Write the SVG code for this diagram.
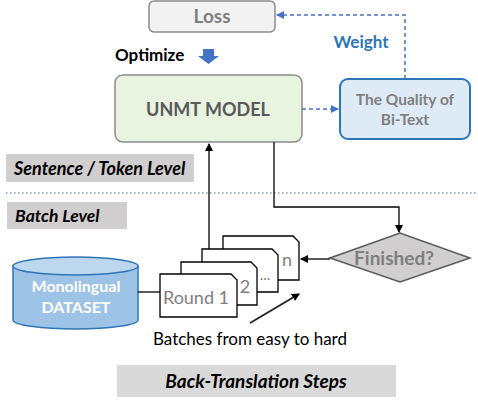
<svg xmlns="http://www.w3.org/2000/svg" width="478" height="400" viewBox="0 0 478 400">
<style>
text{font-family:Lato,"Open Sans","Liberation Sans",sans-serif}
.b{font-weight:bold}
.bi{font-weight:bold;font-style:italic;font-size:17.5px;fill:#000}
.g{fill:#7f7f7f}
.card{fill:#fff;stroke:#000;stroke-width:1.3}
.solid{fill:none;stroke:#000;stroke-width:1.3}
.dash{fill:none;stroke:#4472c4;stroke-width:1.5;stroke-dasharray:4 3}
</style>
<defs>
<marker id="ab" markerWidth="8" markerHeight="8" refX="7" refY="4" orient="auto" markerUnits="userSpaceOnUse"><path d="M0,0 L8,4 L0,8 Z" fill="#000"/></marker>
<marker id="abl" markerWidth="8" markerHeight="8" refX="7" refY="4" orient="auto" markerUnits="userSpaceOnUse"><path d="M0,0 L8,4 L0,8 Z" fill="#4472c4"/></marker>
</defs>
<rect x="0" y="0" width="478" height="400" fill="#fff"/>

<g id="loss">
<rect x="149" y="1" width="126" height="31" rx="5" fill="#f2f2f2" stroke="#8c8c8c" stroke-width="1.5"/>
<text x="212" y="23" text-anchor="middle" class="b g" font-size="19">Loss</text>
</g>

<g id="optimize">
<text x="115" y="61" class="b" font-size="17" fill="#000">Optimize</text>
<polygon points="203,49 214,49 214,56 219,56 208.5,64 198,56 203,56" fill="#4472c4"/>
</g>

<g id="weight-label">
<text x="361" y="48" text-anchor="middle" class="b" font-size="17" fill="#2e75b6">Weight</text>
</g>

<g id="unmt">
<rect x="115" y="75" width="187" height="67" rx="8" fill="#e8f3e0" stroke="#8c8c8c" stroke-width="1.5"/>
<text x="208" y="116" text-anchor="middle" class="b" font-size="18" fill="#595959">UNMT MODEL</text>
</g>

<g id="quality">
<rect x="340" y="79" width="130" height="60" rx="8" fill="#deebf7" stroke="#2e75b6" stroke-width="2"/>
<text x="405" y="105" text-anchor="middle" class="b g" font-size="15.5">The Quality of</text>
<text x="405" y="125" text-anchor="middle" class="b g" font-size="15.5">Bi-Text</text>
</g>

<g id="sentence-level">
<rect x="6" y="154" width="188" height="28" fill="#d0cece"/>
<text x="14" y="175" class="bi" font-size="18" style="font-size:18px">Sentence / Token Level</text>
</g>

<line x1="6" y1="193" x2="478" y2="193" stroke="#8497b0" stroke-width="1.5" stroke-dasharray="1.5 2.5"/>

<g id="batch-level">
<rect x="7" y="202" width="120" height="27" fill="#d0cece"/>
<text x="15" y="222" class="bi">Batch Level</text>
</g>

<g id="dataset">
<path d="M13,266 L13,320 A62.5,9 0 0 0 138,320 L138,266 Z" fill="#9dc3e6" stroke="#2e75b6" stroke-width="1.5"/>
<ellipse cx="75.5" cy="266" rx="62.5" ry="9" fill="#bdd7ee" stroke="#2e75b6" stroke-width="1.5"/>
<text x="76" y="292" text-anchor="middle" class="b" font-size="16" fill="#fff">Monolingual</text>
<text x="76" y="313" text-anchor="middle" class="b" font-size="16" fill="#fff">DATASET</text>
</g>

<g id="batches">
<path class="card" d="M223,236 L293,236 L299,242 L299,280 L223,280 Z"/>
<text x="287" y="266" text-anchor="middle" class="g" font-size="18">n</text>
<path class="card" d="M202,249 L272,249 L278,255 L278,292 L202,292 Z"/>
<text x="265" y="280" text-anchor="middle" class="g" font-size="15">...</text>
<path class="card" d="M181,262 L251,262 L257,268 L257,305 L181,305 Z"/>
<text x="245" y="293" text-anchor="middle" class="g" font-size="18">2</text>
<path class="card" d="M160,274 L231,274 L237,280 L237,317 L160,317 Z"/>
<text x="196" y="304" text-anchor="middle" class="g" font-size="18">Round 1</text>
</g>

<g id="finished">
<polygon points="330,258 400,233 470,258 400,282" fill="#d0cece" stroke="#595959" stroke-width="1.5"/>
<text x="394" y="265" text-anchor="middle" class="b g" font-size="19">Finished?</text>
</g>

<g id="batches-label">
<text x="250" y="345" text-anchor="middle" font-size="17" fill="#000">Batches from easy to hard</text>
</g>

<g id="steps">
<rect x="117" y="365" width="279" height="32" fill="#d9d9d9"/>
<text x="256" y="388" text-anchor="middle" class="bi" style="font-size:19px">Back-Translation Steps</text>
</g>

<g id="connectors">
<polyline class="dash" points="405,79 405,15 277,15" marker-end="url(#abl)"/>
<line class="dash" x1="302" y1="109" x2="338" y2="109" marker-end="url(#abl)"/>
<line class="solid" x1="209" y1="249" x2="209" y2="144" marker-end="url(#ab)"/>
<polyline class="solid" points="274,142 274,207 399,207 399,232" marker-end="url(#ab)"/>
<line class="solid" x1="330" y1="259" x2="301" y2="259" marker-end="url(#ab)"/>
<line class="solid" x1="138" y1="292" x2="160" y2="292"/>
<line x1="250" y1="323" x2="299" y2="294" stroke="#262626" stroke-width="2" marker-end="url(#ab)"/>
</g>
</svg>
